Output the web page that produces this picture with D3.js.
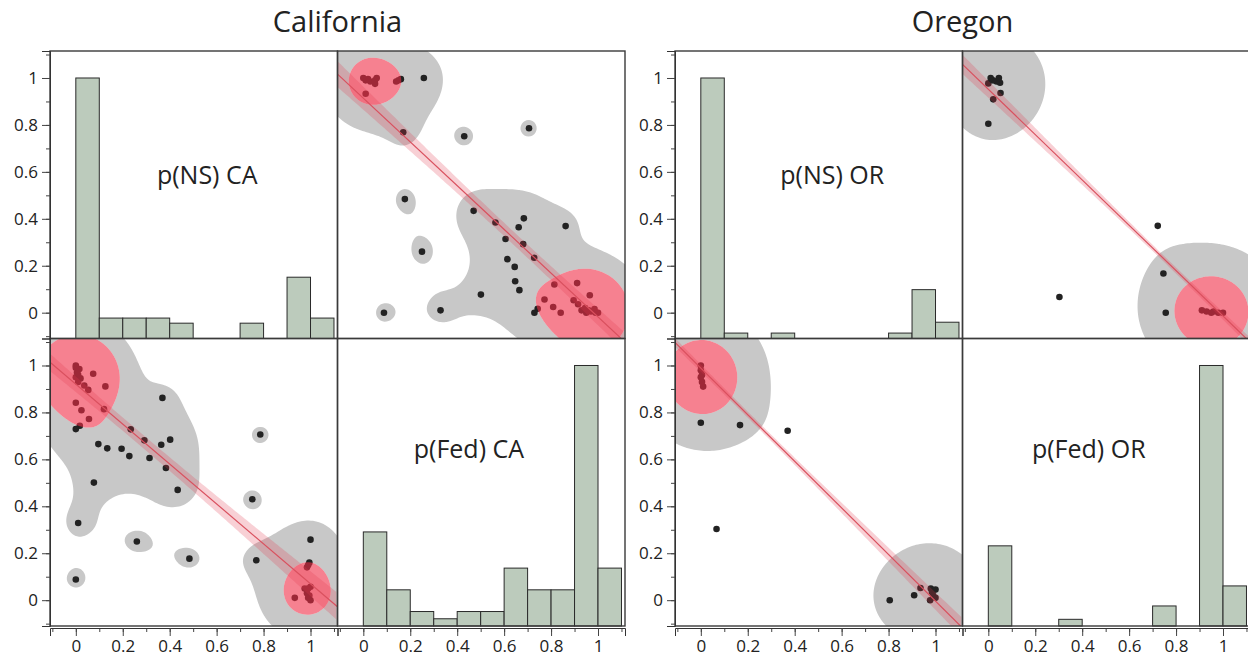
<!DOCTYPE html>
<html>
<head>
<meta charset="utf-8">
<script src="https://cdn.jsdelivr.net/npm/d3@7"></script>
<style>
  body { margin: 0; background: #fff; }
  text { font-family: "Open Sans", "Noto Sans", sans-serif; fill: #222; }
</style>
</head>
<body>
<svg id="chart" width="1248" height="660"></svg>
<script>
// histogram bins: [0,0.1), [0.1,0.2) ... [1.0,1.1)
const binStarts = [0, 0.1, 0.2, 0.3, 0.4, 0.5, 0.6, 0.7, 0.8, 0.9, 1.0];
const histNsCA  = [51, 4, 4, 4, 3, 0, 0, 3, 0, 12, 4];
const histFedCA = [13, 5, 2, 1, 2, 2, 8, 5, 5, 36, 8];
const histNsOR  = [48, 1, 0, 1, 0, 0, 0, 0, 1, 9, 3];
const histFedOR = [12, 0, 0, 1, 0, 0, 0, 3, 0, 39, 6];

// points: [p(NS), p(Fed), count]
const pointsCA = [
  [0.00, 1.00, 8], [0.00, 0.99, 4], [0.005, 0.97, 6], [0.01, 0.96, 6],
  [0.00, 0.95, 5], [0.01, 0.93, 5], [0.015, 0.985, 3], [0.02, 0.945, 2],
  [0.074, 0.965], [0.036, 0.915], [0.053, 0.896], [0.126, 0.911],
  [0.00, 0.841], [0.024, 0.809], [0.12, 0.814], [0.056, 0.772],
  [0.017, 0.743], [0.00, 0.729], [0.369, 0.862], [0.234, 0.728],
  [0.096, 0.665], [0.134, 0.647], [0.195, 0.645], [0.292, 0.681],
  [0.364, 0.662], [0.402, 0.684], [0.228, 0.614], [0.314, 0.606],
  [0.384, 0.563], [0.434, 0.470], [0.077, 0.501], [0.01, 0.329],
  [0.26, 0.25], [0.484, 0.177], [0.00, 0.088], [0.786, 0.706],
  [0.752, 0.43], [0.769, 0.17], [1.00, 0.258], [0.985, 0.14],
  [0.99, 0.15], [0.995, 0.16], [0.933, 0.01],
  [1.00, 0.00, 2], [0.99, 0.01, 2], [0.985, 0.03, 2], [0.99, 0.05, 2],
  [0.975, 0.05, 1], [1.00, 0.057, 1], [0.995, 0.02, 1]
];
const pointsOR = [
  [0.00, 1.00, 6], [0.00, 0.98, 8], [0.005, 0.96, 8], [0.00, 0.95, 8],
  [0.005, 0.93, 8], [0.01, 0.91, 7],
  [0.00, 0.756], [0.167, 0.746], [0.37, 0.722], [0.067, 0.303],
  [0.805, 0.00], [0.909, 0.021], [0.936, 0.052],
  [0.98, 0.05, 2], [0.985, 0.035, 2], [0.99, 0.02, 2], [1.00, 0.01, 2],
  [0.977, 0.00, 1], [1.00, 0.045, 1]
];

// linear fits: y = a + b*x, band half width = se*sqrt(1+((x-mean)/k)^2)
const fitsCA = {fedOnNs: {a: 0.92, b: -0.85, mean: 0.28, se: 0.028, k: 0.45},
                nsOnFed: {a: 0.914, b: -0.932, mean: 0.65, se: 0.028, k: 0.45}};
const fitsOR = {fedOnNs: {a: 0.989, b: -0.993, mean: 0.2, se: 0.013, k: 0.3},
                nsOnFed: {a: 0.952, b: -0.966, mean: 0.78, se: 0.013, k: 0.3}};

// density: bandwidth per variable [ns, fed], levels [outer, core]
const densCA = {bw: [0.09, 0.085], levels: [0.93, 7]};
const densOR = {bw: [0.12, 0.12], levels: [2.5, 20]};

const states = [
  {name: "California", code: "CA", left: 50, hist: [histNsCA, histFedCA], pts: pointsCA, fits: fitsCA, dens: densCA},
  {name: "Oregon", code: "OR", left: 675, hist: [histNsOR, histFedOR], pts: pointsOR, fits: fitsOR, dens: densOR}
];

const svg = d3.select("#chart");
const top0 = 51, cell = 287.5;
const dom = [-0.11, 1.115];
const majorTicks = [0, 0.2, 0.4, 0.6, 0.8, 1];
const minorTicks = [-0.1, 0, 0.1, 0.2, 0.3, 0.4, 0.5, 0.6, 0.7, 0.8, 0.9, 1, 1.1];
const fmt = d3.format("~g");

function densityPaths(pts, xs, ys, xi, yi, dens) {
  const step = 2, pad = 10;
  const [x0, x1] = xs.range();
  const [y1, y0] = ys.range();
  const gx0 = x0 - pad, gy0 = y0 - pad;
  const nx = Math.ceil((x1 - x0 + 2 * pad) / step), ny = Math.ceil((y1 - y0 + 2 * pad) / step);
  const pxPerUnit = (x1 - x0) / (dom[1] - dom[0]);
  const kx = dens.bw[xi] * pxPerUnit, ky = dens.bw[yi] * pxPerUnit;
  const P = pts.map(p => [xs(p[xi]), ys(p[yi]), p[2] || 1]);
  const v = new Float64Array(nx * ny);
  for (let j = 0; j < ny; j++) {
    const cy = gy0 + (j + 0.5) * step;
    for (let i = 0; i < nx; i++) {
      const cx = gx0 + (i + 0.5) * step;
      let s = 0;
      for (const [px, py, n] of P) {
        const dx = (cx - px) / kx, dy = (cy - py) / ky;
        s += n * Math.exp(-0.5 * (dx * dx + dy * dy));
      }
      v[j * nx + i] = s;
    }
  }
  const cs = d3.contours().size([nx, ny]).thresholds(dens.levels)(v);
  const path = d3.geoPath(d3.geoTransform({
    point(x, y) { this.stream.point(gx0 + x * step, gy0 + y * step); }
  }));
  return cs.map(c => path(c));
}

function scatterCell(g, st, xs, ys, xi, yi, fit, id) {
  const [x0, x1] = xs.range();
  const [y1, y0] = ys.range();
  svg.append("clipPath").attr("id", id)
    .append("rect").attr("x", x0).attr("y", y0).attr("width", x1 - x0).attr("height", y1 - y0);
  const c = g.append("g").attr("clip-path", "url(#" + id + ")");
  const paths = densityPaths(st.pts, xs, ys, xi, yi, st.dens);
  c.append("path").attr("d", paths[0]).attr("fill", "#c8c8c8");
  c.append("path").attr("d", paths[1]).attr("fill", "#fff");
  c.selectAll(".pt")
    .data(st.pts)
    .enter()
    .append("circle")
    .attr("cx", d => xs(d[xi]))
    .attr("cy", d => ys(d[yi]))
    .attr("r", 3.3)
    .attr("fill", "#222");
  c.append("path").attr("d", paths[1]).attr("fill", "rgba(240,45,70,0.6)");

  const f = x => fit.a + fit.b * x;
  const h = x => fit.se * Math.sqrt(1 + Math.pow((x - fit.mean) / fit.k, 2));
  const xsamp = d3.range(dom[0], dom[1] + 0.005, 0.01);
  c.append("path")
    .attr("d", d3.area().x(d => xs(d)).y0(d => ys(f(d) - h(d))).y1(d => ys(f(d) + h(d)))(xsamp))
    .attr("fill", "rgba(225,60,80,0.24)");
  c.append("path")
    .attr("d", d3.line().x(d => xs(d)).y(d => ys(f(d)))(dom))
    .attr("stroke", "#d9505e")
    .attr("stroke-width", 1.2)
    .attr("fill", "none");
}

function histCell(g, counts, xs, ys) {
  const base = ys.range()[0];
  const hy = d3.scaleLinear().domain([0, d3.max(counts)]).range([base, ys(1)]);
  g.selectAll(null)
    .data(binStarts.map((b, i) => ({b: b, n: counts[i]})).filter(d => d.n > 0))
    .enter()
    .append("rect")
    .attr("x", d => xs(d.b))
    .attr("y", d => hy(d.n))
    .attr("width", d => xs(d.b + 0.1) - xs(d.b))
    .attr("height", d => base - hy(d.n))
    .attr("fill", "#bccbbc")
    .attr("stroke", "#2a2a2a")
    .attr("stroke-width", 1);
}

function axes(g, scale, orient, pos) {
  const mk = orient === "left" ? d3.axisLeft : d3.axisBottom;
  const tr = orient === "left" ? "translate(" + pos + ",0)" : "translate(0," + pos + ")";
  const minor = g.append("g").attr("transform", tr)
    .call(mk(scale).tickValues(minorTicks).tickSize(4).tickFormat(""));
  minor.select(".domain").remove();
  const major = g.append("g").attr("transform", tr)
    .call(mk(scale).tickValues(majorTicks).tickSize(8).tickPadding(4).tickFormat(fmt));
  major.select(".domain").attr("stroke", "#333");
  g.selectAll(".tick line").attr("stroke", "#444");
  major.selectAll("text")
    .style("font-size", "17px")
    .style("font-family", "'Open Sans', sans-serif")
    .attr("fill", "#222");
}

states.forEach(st => {
  const g = svg.append("g");
  const xL = d3.scaleLinear().domain(dom).range([st.left, st.left + cell]);
  const xR = d3.scaleLinear().domain(dom).range([st.left + cell, st.left + 2 * cell]);
  const yT = d3.scaleLinear().domain(dom).range([top0 + cell, top0]);
  const yB = d3.scaleLinear().domain(dom).range([top0 + 2 * cell, top0 + cell]);

  // diagonal: histograms
  histCell(g, st.hist[0], xL, yT);
  histCell(g, st.hist[1], xR, yB);

  // off diagonal: scatter with density + fit
  scatterCell(g, st, xR, yT, 1, 0, st.fits.nsOnFed, "clip-" + st.code + "-tr");
  scatterCell(g, st, xL, yB, 0, 1, st.fits.fedOnNs, "clip-" + st.code + "-bl");

  // labels in the diagonal cells
  g.append("text")
    .attr("x", xL(0.56)).attr("y", yT(0.548))
    .attr("text-anchor", "middle")
    .style("font-size", "25px")
    .text("p(NS) " + st.code);
  g.append("text")
    .attr("x", xR(st.code === "CA" ? 0.45 : 0.428)).attr("y", yB(0.606))
    .attr("text-anchor", "middle")
    .style("font-size", "25px")
    .text("p(Fed) " + st.code);

  // cell frames
  [[xL, yT], [xR, yT], [xL, yB], [xR, yB]].forEach(([xs, ys]) => {
    g.append("rect")
      .attr("x", xs.range()[0]).attr("y", ys.range()[1])
      .attr("width", cell).attr("height", cell)
      .attr("fill", "none")
      .attr("stroke", "#3a3a3a")
      .attr("stroke-width", 1.4);
  });

  // axes
  axes(g, yT, "left", st.left);
  axes(g, yB, "left", st.left);
  axes(g, xL, "bottom", top0 + 2 * cell + 2);
  axes(g, xR, "bottom", top0 + 2 * cell + 2);

  // title
  g.append("text")
    .attr("x", st.left + cell).attr("y", 32)
    .attr("text-anchor", "middle")
    .style("font-size", "29px")
    .text(st.name);
});
</script>
</body>
</html>
